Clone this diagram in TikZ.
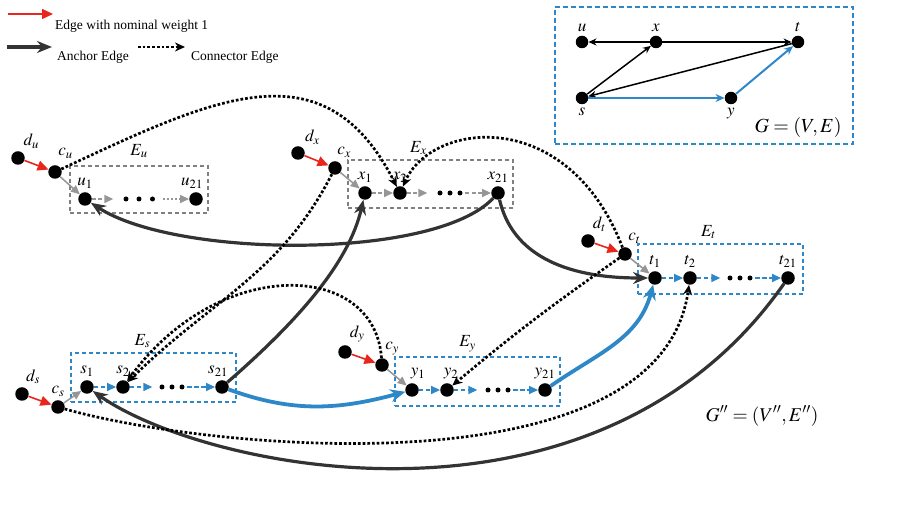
\documentclass[tikz,border=0pt]{standalone}
\usepackage{mathptmx}
\usepackage{fontspec}
\setmainfont{Liberation Serif}
\usetikzlibrary{positioning, arrows.meta}

\definecolor{nomred}{RGB}{232,38,30}
\definecolor{gblue}{RGB}{46,136,200}
\definecolor{anchorgray}{RGB}{51,51,51}
\definecolor{linkgray}{RGB}{150,150,150}
\definecolor{boxgray}{RGB}{128,128,128}

\begin{document}
\begin{tikzpicture}[
    x=1pt, y=1pt,
    vtx/.style={circle, fill=black, inner sep=0pt, minimum size=13.5pt},
    gvtx/.style={circle, fill=black, inner sep=0pt, minimum size=12.5pt},
    ddot/.style={circle, fill=black, inner sep=0pt, minimum size=5pt},
    lbl/.style={font=\fontsize{17}{17}\selectfont, inner sep=0.5pt},
    label distance=3pt,
    legtext/.style={font=\fontsize{13.5}{16}\selectfont, inner sep=0pt},
    graybox/.style={draw=boxgray, line width=1.1pt, dash pattern=on 4pt off 3pt, inner sep=0pt},
    bluebox/.style={draw=gblue, line width=1.2pt, dash pattern=on 4pt off 3pt, inner sep=0pt},
    nomedge/.style={draw=nomred, line width=1.6pt, -{Triangle[length=11pt, width=10pt]}},
    graylink/.style={draw=linkgray, line width=1.5pt, -{Triangle[length=9pt, width=8pt]}},
    graychain/.style={graylink, dash pattern=on 4pt off 2.5pt},
    graydots/.style={graylink, dash pattern=on 2pt off 2pt},
    bluechain/.style={draw=gblue, line width=1.7pt, dash pattern=on 4.5pt off 2.5pt, -{Triangle[length=9pt, width=8pt]}},
    anchoredge/.style={draw=anchorgray, line width=3.2pt, -{Stealth[length=15pt, width=12pt]}},
    blueanchor/.style={draw=gblue, line width=3.8pt, -{Stealth[length=15pt, width=13pt]}},
    connedge/.style={draw=black, line width=2.7pt, dash pattern=on 2.7pt off 2pt, -{Stealth[length=10pt, width=9pt]}},
    gedge/.style={draw=black, line width=1.5pt, -{Stealth[length=8pt, width=7pt]}},
    gblueedge/.style={draw=gblue, line width=2pt, -{Stealth[length=9pt, width=8pt]}}
]
\useasboundingbox (0,0) rectangle (914,527);

%% ── Legend ───────────────────────────────────────────────────────────────────
\coordinate (nomA) at (8,513);
\coordinate (nomB) at (53,513);
\draw[nomedge] (nomA) -- (nomB);
\node[legtext, right=2pt of nomB, yshift=-12pt] (nomtxt) {Edge with nominal weight 1};

\coordinate (ancA) at (7,480);
\coordinate (ancB) at (52,480);
\draw[anchoredge, line width=4.5pt] (ancA) -- (ancB);
\node[legtext, right=5pt of ancB, yshift=-10pt] (anctxt) {Anchor Edge};

\coordinate (conA) at (138,480);
\coordinate (conB) at (185,480);
\draw[connedge, line width=2.4pt] (conA) -- (conB);
\node[legtext, right=6pt of conB, yshift=-10pt] (contxt) {Connector Edge};

%% ── Original graph G ─────────────────────────────────────────────────────────
\node[bluebox, line width=1.9pt, dash pattern=on 5pt off 3pt,
      minimum width=298pt, minimum height=137pt] (Gbox) at (704,451.5) {};
\node[gvtx, label={[lbl]above:$u$}] (gu) at (582,485) {};
\node[gvtx, label={[lbl]above:$x$}] (gx) at (656,485) {};
\node[gvtx, label={[lbl]above:$t$}] (gt) at (798,485) {};
\node[gvtx, label={[lbl]below:$s$}] (gs) at (582,429) {};
\node[gvtx, label={[lbl]below:$y$}] (gy) at (731,429) {};
\node[font=\fontsize{20}{20}\selectfont] (Gname) at (798,399) {$G=(V,E)$};

\draw[gedge] (gx) -- (gu);
\draw[gedge] (gx) -- (gt);
\draw[gedge] (gs) -- (gx);
\draw[gedge] (gt) -- (gs);
\draw[gblueedge] (gs) -- (gy);
\draw[gblueedge] (gy) -- (gt);

%% ── Gadget of u ──────────────────────────────────────────────────────────────
\node[graybox, minimum width=138pt, minimum height=47pt,
      label={[lbl, label distance=7pt]above:$E_u$}] (Eu) at (139,337.5) {};
\node[vtx, label={[lbl]60:$d_u$}] (du) at (18,369) {};
\node[vtx, label={[lbl, label distance=6pt]78:$c_u$}] (cu) at (55,355) {};
\node[vtx, label={[lbl]above:$u_1$}] (u1) at (85,328) {};
\node[ddot] (udA) at (126,328) {};
\node[ddot] (udB) at (139,328) {};
\node[ddot] (udC) at (152.5,328) {};
\node[vtx, label={[lbl, xshift=-4pt]above:$u_{21}$}] (u21) at (196,328) {};
\draw[nomedge] (du) -- (cu);
\draw[graylink] (cu) -- (u1);
\draw[graychain, shorten >=10pt] (u1) -- (udA);
\draw[graydots, shorten <=8pt] (udC) -- (u21);

%% ── Gadget of x ──────────────────────────────────────────────────────────────
\node[graybox, minimum width=165pt, minimum height=48pt,
      label={[lbl, label distance=4pt, xshift=-12pt]above:$E_x$}] (Ex) at (430.5,343) {};
\node[vtx, label={[lbl]50:$d_x$}] (dx) at (298,374) {};
\node[vtx, label={[lbl]80:$c_x$}] (cx) at (335,359) {};
\node[vtx, label={[lbl]above:$x_1$}] (x1) at (365,334) {};
\node[vtx, label={[lbl]above:$x_2$}] (x2) at (400,334) {};
\node[ddot] (xdA) at (440,334) {};
\node[ddot] (xdB) at (450,334) {};
\node[ddot] (xdC) at (460,334) {};
\node[vtx, label={[lbl]above:$x_{21}$}] (x21) at (498,334) {};
\draw[nomedge] (dx) -- (cx);
\draw[graylink] (cx) -- (x1);
\draw[graychain] (x1) -- (x2);
\draw[graychain, shorten >=10pt] (x2) -- (xdA);
\draw[graychain, shorten <=2.5pt] (xdC) -- (x21);

%% ── Gadget of t ──────────────────────────────────────────────────────────────
\node[bluebox, minimum width=165pt, minimum height=50pt,
      label={[lbl, label distance=4pt, xshift=-12pt]above:$E_t$}] (Et) at (720.5,258) {};
\node[vtx, label={[lbl]65:$d_t$}] (dt) at (588,286) {};
\node[vtx, label={[lbl]75:$c_t$}] (ct) at (625,273) {};
\node[vtx, label={[lbl]above:$t_1$}] (t1) at (655,249) {};
\node[vtx, label={[lbl]above:$t_2$}] (t2) at (690,249) {};
\node[ddot] (tdA) at (730,249) {};
\node[ddot] (tdB) at (740,249) {};
\node[ddot] (tdC) at (750,249) {};
\node[vtx, label={[lbl]above:$t_{21}$}] (t21) at (788,249) {};
\draw[nomedge] (dt) -- (ct);
\draw[graylink] (ct) -- (t1);
\draw[bluechain] (t1) -- (t2);
\draw[bluechain, shorten >=7pt] (t2) -- (tdA);
\draw[bluechain, shorten <=2.5pt] (tdC) -- (t21);

%% ── Gadget of s ──────────────────────────────────────────────────────────────
\node[bluebox, minimum width=165pt, minimum height=49pt,
      label={[lbl, label distance=4pt, xshift=-11pt]above:$E_s$}] (Es) at (153.5,149.5) {};
\node[vtx, label={[lbl]70:$d_s$}] (ds) at (22,133) {};
\node[vtx, label={[lbl]90:$c_s$}] (cs) at (58,120) {};
\node[vtx, label={[lbl]above:$s_1$}] (s1) at (87,140) {};
\node[vtx, label={[lbl]above:$s_2$}] (s2) at (123,140) {};
\node[ddot] (sdA) at (162,140) {};
\node[ddot] (sdB) at (172,140) {};
\node[ddot] (sdC) at (182,140) {};
\node[vtx, label={[lbl, xshift=-4pt]above:$s_{21}$}] (s21) at (222,140) {};
\draw[nomedge] (ds) -- (cs);
\draw[graylink] (cs) -- (s1);
\draw[bluechain] (s1) -- (s2);
\draw[bluechain, shorten >=7pt] (s2) -- (sdA);
\draw[bluechain, shorten <=2.5pt] (sdC) -- (s21);

%% ── Gadget of y ──────────────────────────────────────────────────────────────
\node[bluebox, minimum width=165pt, minimum height=49pt,
      label={[lbl, label distance=4pt, xshift=-10pt]above:$E_y$}] (Ey) at (477.5,145.5) {};
\node[vtx, label={[lbl]65:$d_y$}] (dy) at (345,175) {};
\node[vtx, label={[lbl]75:$c_y$}] (cy) at (382,162) {};
\node[vtx, label={[lbl, xshift=6pt]above:$y_1$}] (y1) at (412,137) {};
\node[vtx, label={[lbl, xshift=4pt]above:$y_2$}] (y2) at (447,137) {};
\node[ddot] (ydA) at (488,137) {};
\node[ddot] (ydB) at (498,137) {};
\node[ddot] (ydC) at (508,137) {};
\node[vtx, label={[lbl]above:$y_{21}$}] (y21) at (545,137) {};
\draw[nomedge] (dy) -- (cy);
\draw[graylink] (cy) -- (y1);
\draw[bluechain] (y1) -- (y2);
\draw[bluechain, shorten >=8pt] (y2) -- (ydA);
\draw[bluechain, shorten <=2.5pt] (ydC) -- (y21);

\node[font=\fontsize{19.5}{20}\selectfont] (Gpp) at (762,111) {$G''=(V'',E'')$};

%% ── Anchor edges ─────────────────────────────────────────────────────────────
\draw[anchoredge] (x21) to[out=227, in=-33, out distance=85pt, in distance=102pt] (u1);
\draw[anchoredge] (x21) to[out=-77, in=180, out distance=55pt, in distance=85pt] (t1);
\draw[anchoredge] (s21) to[out=41, in=257, out distance=91pt, in distance=66pt] (x1);
\draw[anchoredge] (t21) to[out=235, in=-35, out distance=328pt, in distance=138pt] (s1);
\draw[blueanchor] (s21) to[out=-20, in=195] (y1);
\draw[blueanchor] (y21) to[out=35, in=-105] (t1);

%% ── Connector edges ──────────────────────────────────────────────────────────
\draw[connedge] (cu) to[out=25, in=117, out distance=170pt, in distance=160pt] (x2);
\draw[connedge] (ct) to[out=111, in=66, out distance=152pt, in distance=72pt] (x2);
\draw[connedge] (cx) to[out=243, in=45] (s2);
\draw[connedge] (cy) to[out=94, in=54, out distance=98pt, in distance=155pt] (s2);
\draw[connedge] (ct) to[out=215, in=40] (y2);
\draw[connedge] (cs) to[out=-16, in=262, out distance=148pt, in distance=211pt] (t2);

\end{tikzpicture}
\end{document}
